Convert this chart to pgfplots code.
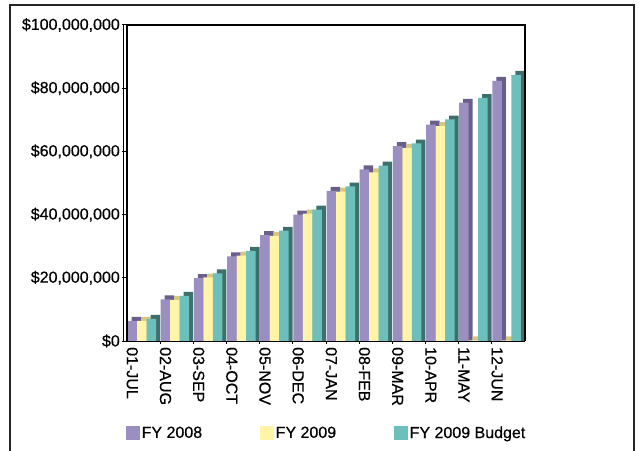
\documentclass[border=0pt]{standalone}
\usepackage{fontspec}
\setmainfont{Liberation Sans}[FakeBold=0.5]
\usepackage{pgfplots}
\usepackage{pgfplotstable}
\pgfplotsset{compat=1.18}
\definecolor{pfront}{HTML}{9B8EC1}
\definecolor{pside}{HTML}{6A5E8A}
\definecolor{yfront}{HTML}{FFF4A8}
\definecolor{yside}{HTML}{D6C880}
\definecolor{tfront}{HTML}{6CBFBB}
\definecolor{tside}{HTML}{3D706C}
% values in millions of dollars
\pgfplotstableread{
x   fy08  fy09  bud
0   6.4   6.4   7.0
1   13.2  13.0  14.3
2   19.9  20.1  21.4
3   26.8  27.0  28.5
4   33.5  33.3  34.9
5   40.0  40.3  41.6
6   47.5  47.3  48.9
7   54.3  53.4  55.5
8   61.7  61.1  62.5
9   68.5  68.0  70.1
10  75.4  0.2   76.9
11  82.3  0.2   84.2
}\data
\begin{document}
\begin{tikzpicture}[x=1pt,y=1pt,font=\fontsize{16}{18}\selectfont]
\useasboundingbox (0,0) rectangle (639,450);
\draw[line width=1.8pt, black!85] (10,-20) rectangle (634,445);
\begin{axis}[
  at={(127pt,109pt)}, anchor=south west,
  scale only axis, width=398pt, height=316pt,
  xmin=-0.5, xmax=11.5, ymin=0, ymax=100,
  clip=false,
  axis line style={draw=none},
  ybar, bar width=9.5pt,
  ytick pos=left, xtick pos=bottom,
  ytick={0,20,40,60,80,100},
  yticklabels={\$0,{\$20,000,000},{\$40,000,000},{\$60,000,000},{\$80,000,000},{\$100,000,000}},
  xtick={-0.34,0.66,1.66,2.66,3.66,4.66,5.66,6.66,7.66,8.66,9.66,10.66},
  xticklabels={01-JUL,02-AUG,03-SEP,04-OCT,05-NOV,06-DEC,07-JAN,08-FEB,09-MAR,10-APR,11-MAY,12-JUN},
  xticklabel style={rotate=-90, anchor=west, inner sep=1pt},
  x tick style={draw=none},
  minor xtick={0.5,1.5,2.5,3.5,4.5,5.5,6.5,7.5,8.5,9.5,10.5},
  minor x tick style={draw=black, line width=1pt},
  minor tick length=3pt,
  y tick style={black, line width=1pt},
  major tick length=5pt,
  tick align=outside,
  yticklabel style={inner sep=2pt},
  legend columns=3,
  legend style={at={(0,0)}, anchor=west, yshift=-92pt, xshift=-1pt, draw=none, inner sep=0pt,
    /tikz/every even column/.append style={column sep=56.5pt},
    nodes={inner sep=1.5pt}},
  legend image code/.code={\fill[#1,draw=none] (0pt,-7pt) rectangle (14pt,7pt);},
]
% FY 2008
\addplot[fill=pside, draw=none, bar shift=-7.3pt, forget plot] table[x=x, y expr=\thisrow{fy08}+1.25] {\data};
\addplot[fill=pfront, draw=none, bar shift=-11.3pt] table[x=x, y=fy08] {\data};
\addlegendentry{FY 2008}
% FY 2009
\addplot[fill=yside, draw=none, bar shift=2.2pt, forget plot] table[x=x, y expr=\thisrow{fy09}+1.25] {\data};
\addplot[fill=yfront, draw=none, bar shift=-1.8pt] table[x=x, y=fy09] {\data};
\addlegendentry{FY 2009}
% Budget
\addplot[fill=tside, draw=none, bar shift=11.7pt, forget plot] table[x=x, y expr=\thisrow{bud}+1.25] {\data};
\addplot[fill=tfront, draw=none, bar shift=7.7pt] table[x=x, y=bud] {\data};
\addlegendentry{FY 2009 Budget}
\draw[line width=2.5pt] (rel axis cs:0,0) -- (rel axis cs:0,1) -- (rel axis cs:1,1) -- (rel axis cs:1,0);
\draw[line width=0.8pt] (rel axis cs:0,0) -- (rel axis cs:1,0);
\draw[line width=0.8pt] ([xshift=-4pt]rel axis cs:0,0) -- ([xshift=-4pt]rel axis cs:0,1);
\end{axis}
\end{tikzpicture}
\end{document}
